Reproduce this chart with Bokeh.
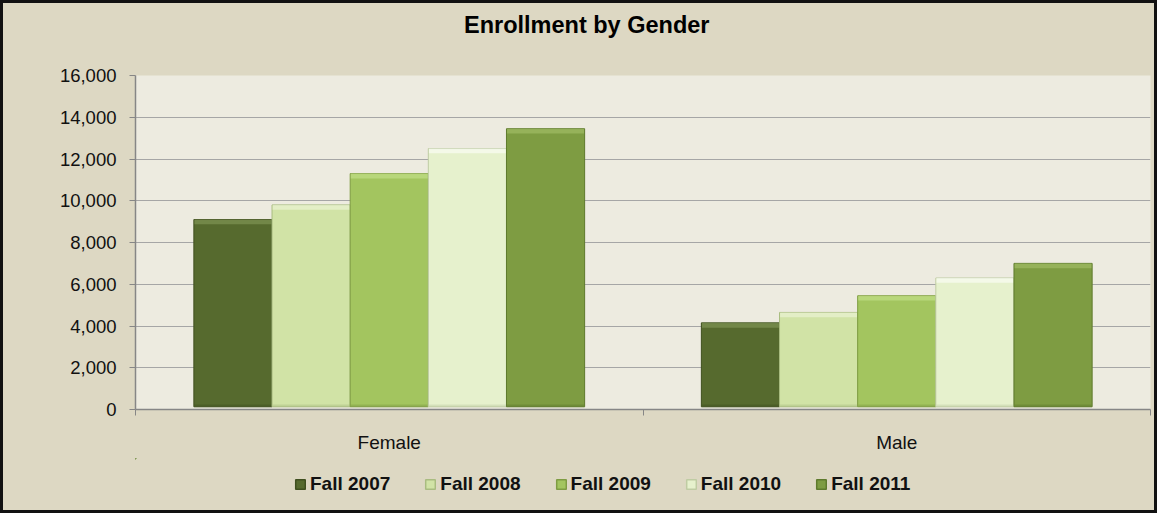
from bokeh.plotting import figure
from bokeh.models import (ColumnDataSource, Range1d, FixedTicker, NumeralTickFormatter,
                          Legend, LegendItem, Div)
from bokeh.layouts import column
from bokeh.embed import file_html
from bokeh.resources import INLINE

categories = ["Female", "Male"]
series = ["Fall 2007", "Fall 2008", "Fall 2009", "Fall 2010", "Fall 2011"]
fall_2007 = [9100, 4150]
fall_2008 = [9800, 4650]
fall_2009 = [11300, 5450]
fall_2010 = [12500, 6300]
fall_2011 = [13450, 7000]
values = [fall_2007, fall_2008, fall_2009, fall_2010, fall_2011]
y_ticks = [0, 2000, 4000, 6000, 8000, 10000, 12000, 14000, 16000]
title_text = "Enrollment by Gender"

colors = ["#566A2E", "#D1E3A6", "#A3C55F", "#E6F1CD", "#7E9C42"]
edges = ["#3F4F1F", "#A9BC80", "#7E9C42", "#BFCCA3", "#5E7A2C"]
tops = ["#8A9E5E", "#F2F8E0", "#CBE592", "#FFFFFF", "#A9C46F"]

FONT = "Liberation Sans"
BG = "#DDD8C3"
W = 1151

title_div = Div(text=title_text, width=W, height=44, margin=0,
                styles={"font-family": FONT, "font-size": "23.5px", "font-weight": "bold",
                        "color": "#000000", "line-height": "44px", "padding-left": "461px",
                        "box-sizing": "border-box", "white-space": "nowrap"})

p = figure(width=W, height=411, output_backend="svg", toolbar_location=None,
           x_range=Range1d(0, len(categories)), y_range=Range1d(0, 16000),
           min_border_left=132, min_border_right=4, min_border_top=28, min_border_bottom=49)
p.background_fill_color = "#EDEBE0"
p.border_fill_color = BG
p.outline_line_color = None

bar_w = 0.154
base = 130
cap = 230
foot = 110
offsets = [-2, -1, 0, 1, 2]
for i, (name, vals) in enumerate(zip(series, values)):
    xs = [k + 0.5 + offsets[i] * bar_w for k in range(len(categories))]
    src = ColumnDataSource(dict(x=xs, top=vals, capb=[v - cap for v in vals]))
    p.vbar(x="x", top="top", bottom=base, width=bar_w, source=src, fill_color=colors[i],
           line_color=edges[i], line_width=1)
    p.vbar(x="x", top="top", bottom="capb", width=bar_w * 0.985, source=src,
           fill_color=tops[i], fill_alpha=0.55, line_color=None)
    p.vbar(x="x", top=base + foot, bottom=base, width=bar_w * 0.985, source=src,
           fill_color=edges[i], fill_alpha=0.45, line_color=None)

# y axis
p.yaxis.ticker = FixedTicker(ticks=y_ticks)
p.yaxis.formatter = NumeralTickFormatter(format="0,0")
p.yaxis.major_label_text_font = FONT
p.yaxis.major_label_text_font_size = "18.5px"
p.yaxis.major_label_text_color = "#111111"
p.yaxis.axis_line_color = "#868686"
p.yaxis.axis_line_width = 1.5
p.yaxis.major_tick_line_color = "#868686"
p.yaxis.major_tick_out = 6
p.yaxis.major_tick_in = 0
p.yaxis.minor_tick_line_color = None
p.yaxis.major_label_standoff = 13

# x axis
p.xaxis.ticker = FixedTicker(ticks=[k + 0.5 for k in range(len(categories))],
                             minor_ticks=list(range(len(categories) + 1)))
p.xaxis.major_label_overrides = {k + 0.5: c for k, c in enumerate(categories)}
p.xaxis.major_label_text_font = FONT
p.xaxis.major_label_text_font_size = "19px"
p.xaxis.major_label_text_color = "#111111"
p.xaxis.major_tick_line_color = None
p.xaxis.minor_tick_line_color = "#868686"
p.xaxis.minor_tick_out = 6
p.xaxis.minor_tick_in = 0
p.xaxis.axis_line_color = "#868686"
p.xaxis.axis_line_width = 1.5
p.xaxis.major_label_standoff = 16

p.xgrid.grid_line_color = None
p.ygrid.grid_line_color = "#A6A6A6"
p.ygrid.ticker = FixedTicker(ticks=y_ticks)

# legend strip: its glyphs hold the same data, with the strip's view far away from it
lf = figure(width=W, height=52, output_backend="svg", toolbar_location=None,
            x_range=Range1d(100, 101), y_range=Range1d(-200000, -100000), min_border=0)
lf.axis.visible = False
lf.grid.visible = False
lf.outline_line_color = None
lf.background_fill_color = BG
lf.border_fill_color = BG
items = []
for i, (name, vals) in enumerate(zip(series, values)):
    src = ColumnDataSource(dict(x=list(range(len(categories))), top=vals))
    r = lf.vbar(x="x", top="top", bottom="top", width=0.1, source=src,
                fill_color=colors[i], line_color=edges[i], line_width=1.5)
    items.append(LegendItem(label=name, renderers=[r]))
legend = Legend(items=items, orientation="horizontal", location=(159, 15))
legend.label_text_font = FONT
legend.label_text_font_size = "19px"
legend.label_text_font_style = "bold"
legend.label_text_color = "#111111"
legend.glyph_width = 12
legend.glyph_height = 12
legend.label_standoff = 4
legend.spacing = 34
legend.padding = 4
legend.margin = 0
legend.background_fill_alpha = 0
legend.border_line_color = None
lf.add_layout(legend, "center")

layout = column(title_div, p, lf, spacing=0,
                styles={"border": "3px solid #111111", "background-color": BG,
                        "box-sizing": "content-box"})

open("out.html", "w").write(file_html(layout, INLINE))
